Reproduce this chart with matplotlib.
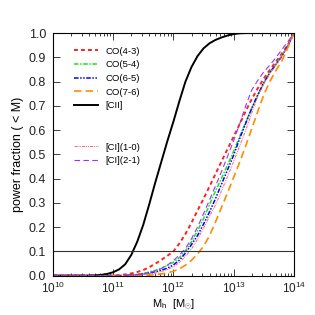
import matplotlib
matplotlib.use("Agg")
import matplotlib.pyplot as plt
from matplotlib.lines import Line2D
import numpy as np

plt.rcParams['font.family'] = ['Liberation Sans', 'DejaVu Sans']
plt.rcParams['mathtext.fontset'] = 'custom'
plt.rcParams['mathtext.rm'] = 'Liberation Sans'

# log10 halo mass grid
log_mh = [10.0, 10.1, 10.2, 10.3, 10.4, 10.5, 10.6, 10.7, 10.8, 10.9,
          11.0, 11.1, 11.2, 11.3, 11.4, 11.5, 11.6, 11.7, 11.8, 11.9,
          12.0, 12.1, 12.2, 12.3, 12.4, 12.5, 12.6, 12.7, 12.8, 12.9,
          13.0, 13.1, 13.2, 13.3, 13.4, 13.5, 13.6, 13.7, 13.8, 13.9, 14.0]

co43 = [0, 0, 0, 0, 0, 0, 0, 0, 0, 0,
        0.000, 0.002, 0.005, 0.009, 0.015, 0.023, 0.035, 0.049, 0.065, 0.082,
        0.100, 0.133, 0.172, 0.218, 0.268, 0.317, 0.368, 0.420, 0.472, 0.523,
        0.573, 0.625, 0.678, 0.728, 0.772, 0.812, 0.848, 0.882, 0.915, 0.952, 1.000]
co54 = [0, 0, 0, 0, 0, 0, 0, 0, 0, 0,
        0.000, 0.000, 0.001, 0.002, 0.005, 0.009, 0.015, 0.022, 0.031, 0.042,
        0.055, 0.075, 0.103, 0.140, 0.185, 0.235, 0.293, 0.350, 0.402, 0.457,
        0.513, 0.573, 0.632, 0.690, 0.745, 0.795, 0.838, 0.872, 0.906, 0.948, 1.000]
co65 = [0, 0, 0, 0, 0, 0, 0, 0, 0, 0,
        0.000, 0.000, 0.001, 0.002, 0.004, 0.007, 0.011, 0.016, 0.022, 0.031,
        0.044, 0.064, 0.093, 0.128, 0.165, 0.212, 0.263, 0.318, 0.378, 0.437,
        0.497, 0.565, 0.628, 0.690, 0.745, 0.795, 0.836, 0.870, 0.904, 0.948, 1.000]
co76 = [0, 0, 0, 0, 0, 0, 0, 0, 0, 0,
        0.000, 0.000, 0.000, 0.000, 0.000, 0.001, 0.002, 0.004, 0.007, 0.011,
        0.018, 0.028, 0.043, 0.063, 0.089, 0.121, 0.165, 0.222, 0.282, 0.343,
        0.405, 0.468, 0.535, 0.605, 0.677, 0.745, 0.800, 0.845, 0.885, 0.940, 1.000]
cii = [0, 0, 0, 0, 0, 0, 0.000, 0.001, 0.003, 0.007,
       0.014, 0.026, 0.047, 0.085, 0.140, 0.210, 0.295, 0.385, 0.470, 0.555,
       0.635, 0.720, 0.800, 0.860, 0.905, 0.937, 0.958, 0.972, 0.982, 0.990,
       0.996, 0.999, 1.000, 1.000, 1.000, 1.000, 1.000, 1.000, 1.000, 1.000, 1.000]
ci10 = [0, 0, 0, 0, 0, 0, 0, 0, 0, 0,
        0.000, 0.000, 0.000, 0.001, 0.002, 0.004, 0.007, 0.011, 0.017, 0.025,
        0.037, 0.054, 0.080, 0.110, 0.150, 0.195, 0.245, 0.292, 0.350, 0.410,
        0.470, 0.535, 0.600, 0.670, 0.738, 0.790, 0.832, 0.868, 0.905, 0.950, 1.000]
ci21 = [0, 0, 0, 0, 0, 0, 0, 0, 0, 0,
        0.000, 0.000, 0.001, 0.002, 0.004, 0.007, 0.012, 0.019, 0.029, 0.043,
        0.062, 0.085, 0.112, 0.152, 0.200, 0.255, 0.312, 0.370, 0.430, 0.492,
        0.557, 0.625, 0.700, 0.765, 0.805, 0.840, 0.868, 0.898, 0.932, 0.965, 1.000]

mh = 10.0 ** np.array(log_mh)

fig = plt.figure(figsize=(3.15, 3.15), dpi=100)
ax = fig.add_axes([0.168, 0.125, 0.765, 0.77])

l1, = ax.plot(mh, co43, color='#ff2020', lw=1.4, ls=(0, (2, 1.6)), label='CO(4-3)')
l2, = ax.plot(mh, co54, color='#22e022', lw=1.1, ls=(0, (3, 1, 1, 1)), label='CO(5-4)')
l3, = ax.plot(mh, co65, color='#0000ff', lw=1.1, ls=(0, (3, 1, 1, 1, 1, 1)), label='CO(6-5)')
l4, = ax.plot(mh, co76, color='#ff8c00', lw=1.2, ls=(0, (4.5, 2.5)), label='CO(7-6)')
l5, = ax.plot(mh, cii, color='black', lw=1.4, label='[CII]')
l6, = ax.plot(mh, ci10, color='#ff6060', lw=0.7, ls=(0, (3, 1, 1, 1, 1, 1)), label='[CI](1-0)')
l7, = ax.plot(mh, ci21, color='#9933ff', lw=0.8, ls=(0, (5, 3)), label='[CI](2-1)')

ax.axhline(0.1, color='#333333', lw=0.8)

blank = Line2D([], [], color='none')
leg = ax.legend([l1, l2, l3, l4, l5, blank, blank, l6, l7],
                ['CO(4-3)', 'CO(5-4)', 'CO(6-5)', 'CO(7-6)', '[CII]', ' ', ' ',
                 '[CI](1-0)', '[CI](2-1)'],
                loc='upper left', bbox_to_anchor=(0.07, 0.96), frameon=False,
                fontsize=6.8, handlelength=2.6, handletextpad=0.8,
                labelspacing=0.5, borderaxespad=0)

ax.set_xscale('log')
ax.set_xlim(1e10, 1e14)
ax.set_ylim(0, 1.0)
ax.set_xticks([1e10, 1e11, 1e12, 1e13, 1e14])
ax.set_xticklabels([r'$10^{10}$', r'$10^{11}$', r'$10^{12}$', r'$10^{13}$', r'$10^{14}$'])
ax.set_yticks(np.arange(0, 1.01, 0.1))
ax.set_yticklabels(['%.1f' % v for v in np.arange(0, 1.01, 0.1)])
ax.tick_params(which='both', direction='in', top=True, right=True,
               width=0.6, colors='#222222')
ax.tick_params(axis='x', labelsize=8.5, pad=4)
ax.tick_params(axis='y', labelsize=9, pad=5)
ax.tick_params(which='major', length=5)
ax.tick_params(which='minor', length=2.5)
ax.tick_params(axis='y', which='minor', left=False, right=False)
for s in ax.spines.values():
    s.set_linewidth(0.8)

ax.set_xlabel(r'M$_{\rm h}$  [M$_{\odot}$]', fontsize=8, labelpad=1)
ax.set_ylabel('power fraction ( < M)', fontsize=9, labelpad=3)

fig.savefig('out.png', dpi=100)
